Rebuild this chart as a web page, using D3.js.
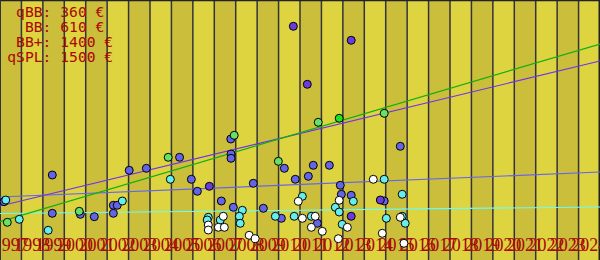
<!DOCTYPE html>
<html><head><meta charset="utf-8">
<script src="https://cdn.jsdelivr.net/npm/d3@7"></script>
<style>html,body{margin:0;padding:0;background:#fff;}svg{display:block;}</style>
</head><body><div id="chart"></div>
<script>
// ---- data ----
const yearLabels = [1997,1998,1999,2000,2001,2002,2003,2004,2005,2006,2007,2008,2009,2010,
                    2011,2012,2013,2014,2015,2016,2017,2018,2019,2020,2021,2022,2023,2024];
const legendLines = [" qBB: 360 €", "  BB: 610 €", " BB+: 1400 €", "qSPL: 1500 €"];

const blueYears  = [1997.19,1999.44,2003.03,2003.83,2005.38,2005.93,2006.21,2007.33,2007.77,2007.78,2007.78,2007.89,2008.82,2009.29,2010.27,2010.78,2011.39,2011.62,2012.37,2012.88,2012.93,2013.39,2015.68,2014.93,2002.29,2002.47,2002.29,2000.75,2001.40,1999.44,2010.13,2011.81];
const blueValues = [58.3,85,89.7,91.7,102.7,80.7,68.7,59,121,106,101.7,52.7,76.7,51.7,91.7,80.7,83.7,94.7,94.7,74.7,65.7,64.7,113.7,59,54.7,54.7,46.7,45.7,43.3,46.7,41.7,36.7];

const violetYears  = [2010.69,2013.39,2011.34,2006.77,2013.39,2014.75];
const violetValues = [233.7,219.7,175.7,73.7,43.7,60];

const greenYears  = [1997.34,2000.70,2004.85,2007.93,2009.99,2011.85,2014.93];
const greenValues = [37.7,48.7,102.7,124.7,98.7,137.7,146.7];

const brightYears  = [2012.83];
const brightValues = [141.7];

const cyanYears  = [1997.27,1997.90,1999.25,2002.71,2004.95,2011.11,2013.49,2008.31,2012.65,2012.83,2006.72,2006.67,2007.28,2008.17,2008.21,2009.85,2010.73,2011.53,2012.97,2014.93,2015.77,2015.03,2015.77,2015.91];
const cyanValues = [60,40.7,29.7,59,80.7,63.7,58.7,49.7,52.7,48,42.7,40,40,43.7,36.7,43.7,43.7,43.7,35.7,80.7,65.7,41.7,43.7,36.7];

const whiteYears  = [2014.42,2010.92,2012.83,2006.72,2006.72,2007.42,2007.19,2007.47,2011.11,2011.71,2011.53,2012.04,2013.21,2008.63,2008.91,2012.79,2015.68,2014.84,2015.85];
const whiteValues = [80.7,58.7,59.7,35,30,43.7,32.7,32.7,41.7,43.7,32.7,28.7,32.7,24.7,21.3,21.3,42.7,26.7,16.7];

// trend lines: [value at 1997, value at 2025]
const greenTrend  = [38.3, 216];
const violetTrend = [54, 199];
const blueTrend   = [63, 88];
const cyanTrend   = [46.5, 53];
const trendYears  = [1997, 2025];

// ---- drawing ----
const W = 600, H = 260;
const svg = d3.select("#chart").append("svg").attr("width", W).attr("height", H);

const x = d3.scaleLinear().domain([1997, 2025]).range([0, W]);
const y = d3.scaleLinear().domain([0, 260]).range([H, 0]);
const band = x(1998) - x(1997);

// stripes
svg.append("g").selectAll("rect").data(yearLabels).join("rect")
  .attr("x", d => x(d)).attr("y", 0)
  .attr("width", band + 0.5).attr("height", H)
  .attr("fill", (d, i) => i % 2 === 0 ? "#cbbe3a" : "#ddd43f");

// grid lines
svg.append("g").selectAll("line").data(yearLabels.slice(1)).join("line")
  .attr("x1", d => x(d)).attr("x2", d => x(d))
  .attr("y1", 0).attr("y2", H)
  .attr("stroke", "#33333f").attr("stroke-width", 1.5);

// frame
svg.append("line").attr("x1", 0).attr("x2", W).attr("y1", 0.5).attr("y2", 0.5)
  .attr("stroke", "#222").attr("stroke-width", 1.5);
svg.append("line").attr("x1", W - 0.75).attr("x2", W - 0.75).attr("y1", 0).attr("y2", H)
  .attr("stroke", "#222").attr("stroke-width", 1.5);
svg.append("line").attr("x1", 0.5).attr("x2", 0.5).attr("y1", 0).attr("y2", H)
  .attr("stroke", "#333").attr("stroke-width", 1);

// year labels
svg.append("g").selectAll("text").data(yearLabels).join("text")
  .attr("x", d => x(d) + band / 2)
  .attr("y", 250.5)
  .attr("text-anchor", "middle")
  .attr("font-family", "'Liberation Serif', serif")
  .attr("font-size", 18)
  .attr("fill", "#a80808")
  .text(d => d);

// trend lines
const trends = [
  {v: cyanTrend, c: "#66ffff"},
  {v: blueTrend, c: "#6464f0"},
  {v: violetTrend, c: "#7030f0"},
  {v: greenTrend, c: "#10b010"}
];
const line = d3.line().x(d => x(d[0])).y(d => y(d[1]));
svg.append("g").selectAll("path").data(trends).join("path")
  .attr("d", t => line(trendYears.map((yr, i) => [yr, t.v[i]])))
  .attr("fill", "none").attr("stroke", t => t.c).attr("stroke-width", 1.2);

// points
const groups = [
  {xs: blueYears, ys: blueValues, c: "#6464e6"},
  {xs: violetYears, ys: violetValues, c: "#6a3ce0"},
  {xs: greenYears, ys: greenValues, c: "#66e066"},
  {xs: brightYears, ys: brightValues, c: "#22e022"},
  {xs: cyanYears, ys: cyanValues, c: "#66eeee"},
  {xs: whiteYears, ys: whiteValues, c: "#ffffff"}
];
groups.forEach(g => {
  svg.append("g").selectAll("circle").data(g.xs.map((d, i) => [d, g.ys[i]])).join("circle")
    .attr("cx", d => x(d[0])).attr("cy", d => y(d[1]))
    .attr("r", 4).attr("fill", g.c).attr("stroke", "#000").attr("stroke-width", 1);
});

// legend
svg.append("g").selectAll("text").data(legendLines).join("text")
  .attr("x", 7.3).attr("y", (d, i) => 17 + i * 15)
  .attr("font-family", "'DejaVu Sans Mono', monospace")
  .attr("font-size", 14.67)
  .attr("fill", "#a80808")
  .style("white-space", "pre")
  .text(d => d);
</script></body></html>
